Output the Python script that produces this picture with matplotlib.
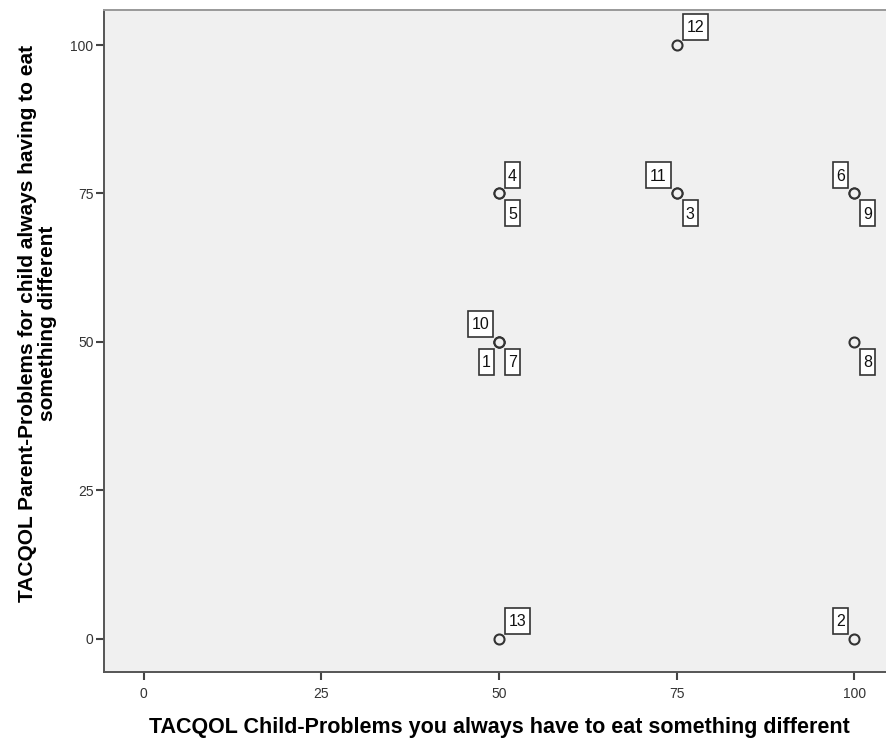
import matplotlib
matplotlib.use('Agg')
import matplotlib.pyplot as plt
from matplotlib.offsetbox import DrawingArea, AnnotationBbox
from matplotlib.patches import Rectangle
from matplotlib.text import Text

# case data (case number, child score, parent score)
case_ids = [1, 2, 3, 4, 5, 6, 7, 8, 9, 10, 11, 12, 13]
child_score = [50, 100, 75, 50, 50, 100, 50, 100, 100, 50, 75, 75, 50]
parent_score = [50, 0, 75, 75, 75, 75, 50, 50, 75, 50, 75, 100, 0]
# where SPSS put each case label relative to its point
label_side = ['ll', 'ul', 'lr', 'ur', 'lr', 'ul', 'lr', 'lr', 'lr', 'ul', 'ul', 'ur', 'ur']

ticks = [0, 25, 50, 75, 100]
xlabel = 'TACQOL Child-Problems you always have to eat something different'
ylabel = 'TACQOL Parent-Problems for child always having to eat\nsomething different'

plt.rcParams['font.family'] = ['Liberation Sans', 'DejaVu Sans']

# label box corner offset from point (pixels) and which corner is anchored
side_offset = {'ur': ((6, 5), (0, 0)), 'lr': ((6, -7), (0, 1)),
               'ul': ((-6, 5), (1, 0)), 'll': ((-5, -7), (1, 1))}
px = 72 / 100.0  # pixel -> point

fig = plt.figure(figsize=(8.86, 7.42), dpi=100)
ax = fig.add_axes([104/886, 70/742, 790/886, 662/742])
ax.set_facecolor('#f0f0f0')

ax.scatter(child_score, parent_score, s=52, facecolors='#f0f0f0',
           edgecolors='#333333', linewidths=1.5, zorder=3)

for cid, xv, yv, side in zip(case_ids, child_score, parent_score, label_side):
    (dx, dy), align = side_offset[side]
    w = (15 if cid < 10 else 25) * px
    h = 26 * px
    da = DrawingArea(w, h, 0, 0)
    da.add_artist(Rectangle((0, 0), w, h, fc='white', ec='#333333', lw=1.2))
    da.add_artist(Text(w / 2, h / 2 - 0.5, str(cid), ha='center', va='center',
                       fontsize=11.5, color='#111111'))
    ab = AnnotationBbox(da, (xv, yv), xybox=(dx * px, dy * px), boxcoords='offset points',
                        frameon=False, pad=0, box_alignment=align)
    ax.add_artist(ab)

ax.set_xlim(-5.6, 105.6)
ax.set_ylim(-5.6, 105.9)
ax.set_xticks(ticks)
ax.set_yticks(ticks)
ax.tick_params(direction='out', length=6, width=1.5, color='#444444',
               labelsize=10, labelcolor='#333333', top=False, right=False)
ax.tick_params(axis='x', pad=4.5)
ax.tick_params(axis='y', pad=1.5)
for s in ax.spines.values():
    s.set_color('#555555')
    s.set_linewidth(1.4)
ax.spines['top'].set_color('#999999')

ax.set_xlabel(xlabel, fontsize=15.5, fontweight='bold', labelpad=12)
ax.set_ylabel(ylabel, fontsize=15, fontweight='bold', linespacing=1.1)
ax.yaxis.set_label_coords(-0.059, 0.527)

plt.savefig('out.png', dpi=100)
